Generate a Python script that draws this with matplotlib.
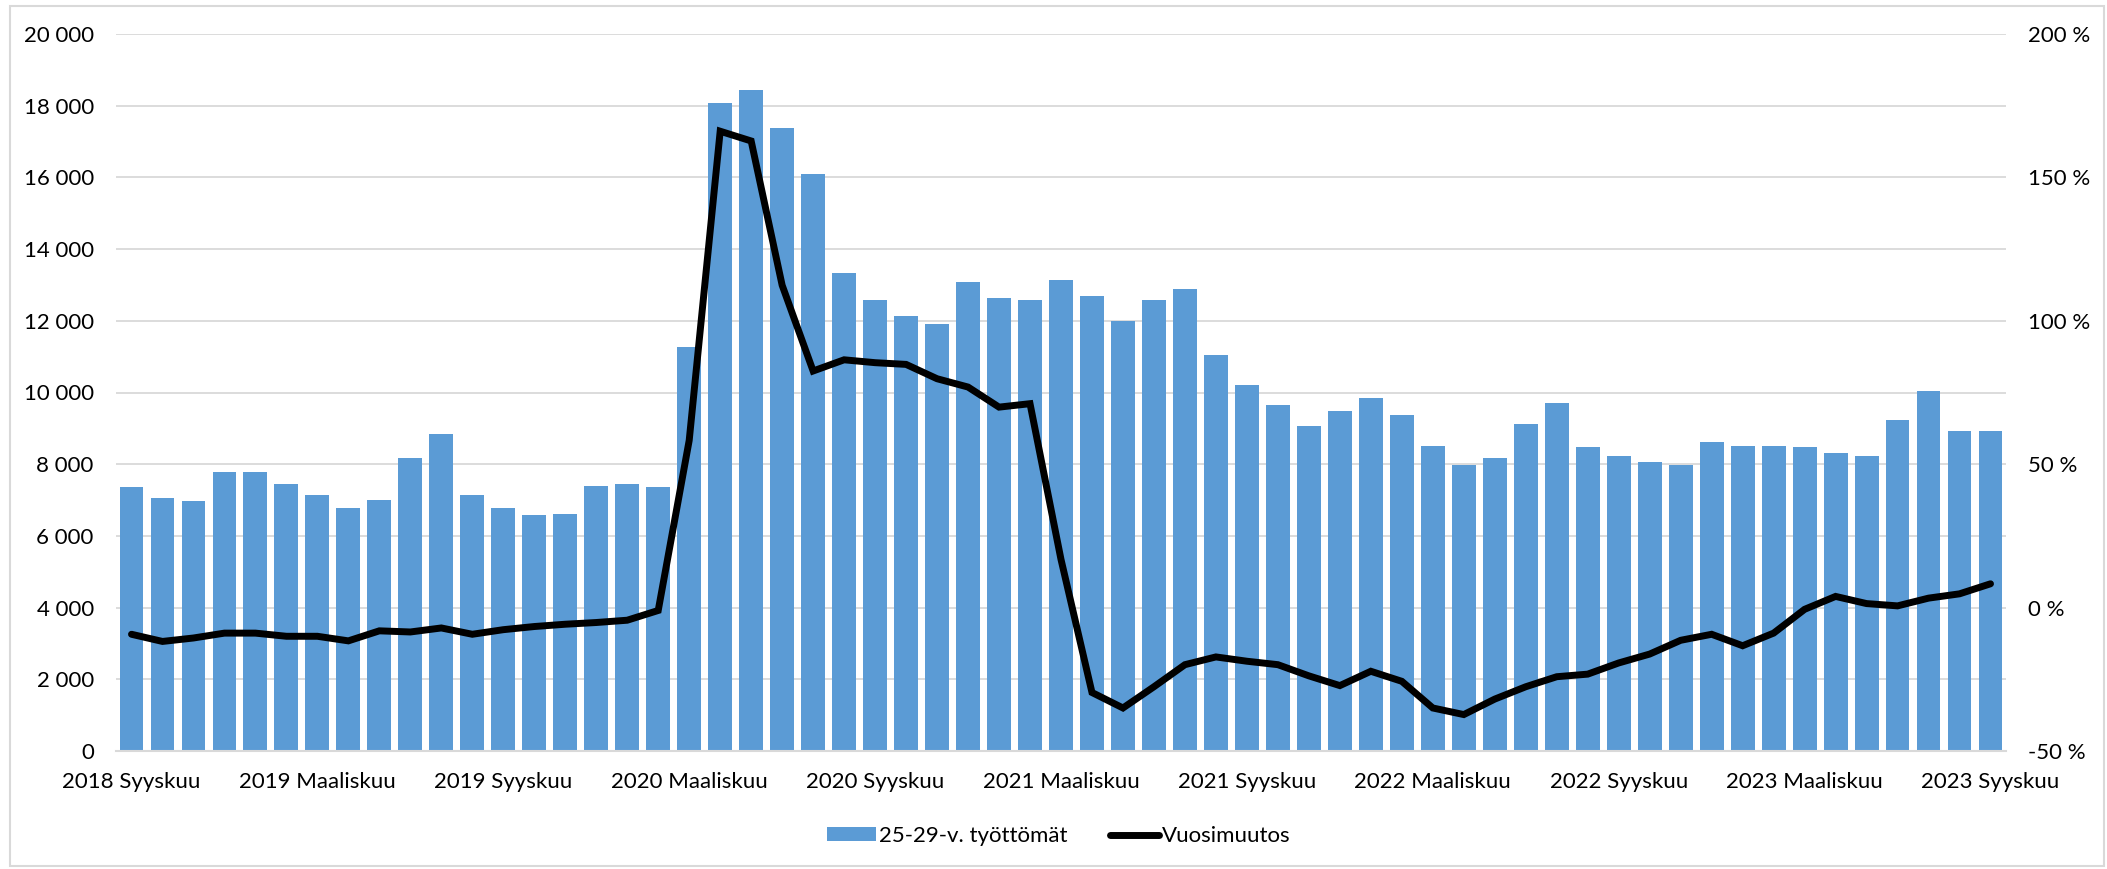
import numpy as np
import matplotlib
matplotlib.use('Agg')
import matplotlib.pyplot as plt
from matplotlib.patches import Rectangle
from matplotlib.ticker import FuncFormatter, MultipleLocator

plt.rcParams['font.family'] = ['Lato', 'DejaVu Sans']

# kuukaudet 2018-09 ... 2023-09
kuukaudet = ['Tammikuu', 'Helmikuu', 'Maaliskuu', 'Huhtikuu', 'Toukokuu', 'Kesäkuu',
             'Heinäkuu', 'Elokuu', 'Syyskuu', 'Lokakuu', 'Marraskuu', 'Joulukuu']
periods = []
for i in range(61):
    m = (8 + i) % 12
    y = 2018 + (8 + i) // 12
    periods.append(f'{y} {kuukaudet[m]}')

# 25-29-v. työttömät
tyottomat = [7360, 7050, 6960, 7770, 7770, 7450, 7140, 6790, 7000, 8160,
             8830, 7140, 6790, 6570, 6620, 7400, 7450, 7360, 11280, 18080,
             18450, 17390, 16090, 13320, 12570, 12120, 11900, 13090, 12640, 12570,
             13140, 12690, 11990, 12570, 12890, 11050, 10200, 9660, 9060, 9490,
             9860, 9370, 8520, 7980, 8160, 9130, 9720, 8470, 8240, 8070,
             7980, 8610, 8520, 8520, 8470, 8300, 8240, 9230, 10030, 8920,
             8920]

# Vuosimuutos, %
vuosimuutos = [-9.3, -11.8, -10.6, -8.9, -8.9, -10.0, -10.0, -11.6, -8.1, -8.5,
               -7.1, -9.3, -7.7, -6.6, -5.8, -5.2, -4.4, -1.0, 58.3, 166.1,
               162.7, 112.4, 82.5, 86.4, 85.4, 84.8, 79.8, 76.9, 69.9, 71.1,
               16.8, -29.6, -35.0, -27.6, -19.9, -17.2, -18.7, -19.9, -23.8, -27.2,
               -22.2, -25.7, -35.0, -37.3, -31.9, -27.6, -24.1, -23.2, -19.3, -16.2,
               -11.4, -9.3, -13.3, -8.9, -0.6, 3.9, 1.4, 0.6, 3.3, 4.8,
               8.3]

W, H = 2107, 869
fig = plt.figure(figsize=(W / 100, H / 100), dpi=100)
fig.patches.append(Rectangle((10 / W, 3 / H), 2094 / W, 860 / H, transform=fig.transFigure,
                             fill=False, edgecolor='#D9D9D9', linewidth=1.5))

ax = fig.add_axes([116 / W, (H - 751) / H, (2006 - 116) / W, (751 - 34) / H])
x = np.arange(len(periods))
ax.bar(x, tyottomat, width=0.77, color='#5B9BD5', label='25-29-v. työttömät', zorder=2)
ax.set_xlim(-0.5, len(periods) - 0.5)
ax.set_ylim(0, 20000)
ax.yaxis.set_major_locator(MultipleLocator(2000))
ax.yaxis.set_major_formatter(FuncFormatter(lambda v, p: f'{int(v):,}'.replace(',', ' ')))
ax.grid(axis='y', color='#D9D9D9', linewidth=1.3, zorder=0)
ax.set_axisbelow(True)
for s in ['top', 'right', 'left']:
    ax.spines[s].set_visible(False)
ax.spines['bottom'].set_color('#D9D9D9')
ax.spines['bottom'].set_linewidth(1.5)
ax.set_xticks(x[::6])
ax.set_xticklabels(periods[::6])
ax.tick_params(axis='both', length=0, labelsize=16, colors='black')
ax.tick_params(axis='y', pad=16)
ax.tick_params(axis='x', pad=15)

ax2 = ax.twinx()
ax2.plot(x, vuosimuutos, color='black', linewidth=5, solid_capstyle='round',
         solid_joinstyle='miter', label='Vuosimuutos')
ax2.set_ylim(-50, 200)
ax2.yaxis.set_major_locator(MultipleLocator(50))
ax2.yaxis.set_major_formatter(FuncFormatter(lambda v, p: f'{int(v)} %'))
for s in ax2.spines.values():
    s.set_visible(False)
ax2.tick_params(axis='y', length=0, labelsize=16, pad=16)

h1, l1 = ax.get_legend_handles_labels()
h2, l2 = ax2.get_legend_handles_labels()
fig.legend(h1 + h2, l1 + l2, loc='center', bbox_to_anchor=(1059 / W, (H - 836) / H),
           ncol=2, frameon=False, fontsize=16, handlelength=2.2, handleheight=0.6,
           handletextpad=0.15, columnspacing=1.9)

fig.savefig('out.png', dpi=100)
